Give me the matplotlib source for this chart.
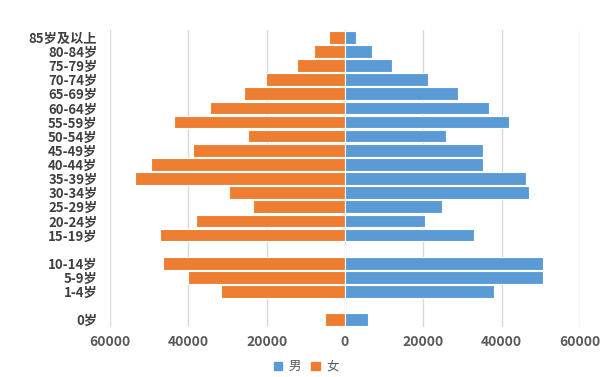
import matplotlib.pyplot as plt
from matplotlib.ticker import FuncFormatter
from matplotlib.patches import Patch

plt.rcParams['font.family'] = ['Noto Sans CJK SC', 'DejaVu Sans']

# age groups top to bottom, "" = empty slot in the chart
ages = ["85岁及以上", "80-84岁", "75-79岁", "70-74岁", "65-69岁", "60-64岁",
        "55-59岁", "50-54岁", "45-49岁", "40-44岁", "35-39岁", "30-34岁",
        "25-29岁", "20-24岁", "15-19岁", "", "10-14岁", "5-9岁", "1-4岁",
        "", "0岁"]
male = [2800, 7000, 12100, 21300, 28800, 36800, 41900, 25800, 35300, 35300,
        46100, 47000, 24800, 20400, 33000, 0, 50500, 50500, 38100, 0, 5900]
female = [4100, 7800, 12200, 20200, 25800, 34500, 43600, 24800, 38800, 49500,
          53600, 29500, 23600, 38000, 47200, 0, 46500, 40100, 31600, 0, 5000]

blue = "#5B9BD5"
orange = "#ED7D31"

fig = plt.figure(figsize=(6.06, 3.77), dpi=100)
ax = fig.add_axes([0.1815, 0.133, 0.7755, 0.787])

pos = list(range(len(ages)))
ax.barh(pos, [-v for v in female], height=0.9, color=orange,
        edgecolor="white", linewidth=0.8, zorder=3)
ax.barh(pos, male, height=0.9, color=blue,
        edgecolor="white", linewidth=0.8, zorder=3)

ax.set_ylim(len(ages) - 0.5, -0.5)
ax.set_xlim(-60000, 60000)
ax.set_xticks([-60000, -40000, -20000, 0, 20000, 40000, 60000])
ax.xaxis.set_major_formatter(FuncFormatter(lambda v, p: f"{abs(int(v))}"))
ax.set_yticks(pos)
ax.set_yticklabels(ages)

ax.grid(axis="x", color="#D9D9D9", linewidth=1, zorder=0)
for s in ax.spines.values():
    s.set_visible(False)
ax.tick_params(axis="both", length=0, colors="#404040")
ax.tick_params(axis="y", pad=9, labelsize=9.5)
ax.tick_params(axis="x", pad=6, labelsize=10)
for t in ax.get_yticklabels():
    t.set_fontweight("bold")
for t in ax.get_xticklabels():
    t.set_fontweight("bold")
    t.set_color("#595959")

handles = [Patch(color=blue, label="男"), Patch(color=orange, label="女")]
fig.legend(handles=handles, loc="center", bbox_to_anchor=(0.505, 0.027),
           ncol=2, frameon=False, fontsize=9, handlelength=0.7,
           handleheight=0.7, handletextpad=0.5, columnspacing=0.8,
           labelcolor="#595959")

fig.savefig("out.png", dpi=100)
